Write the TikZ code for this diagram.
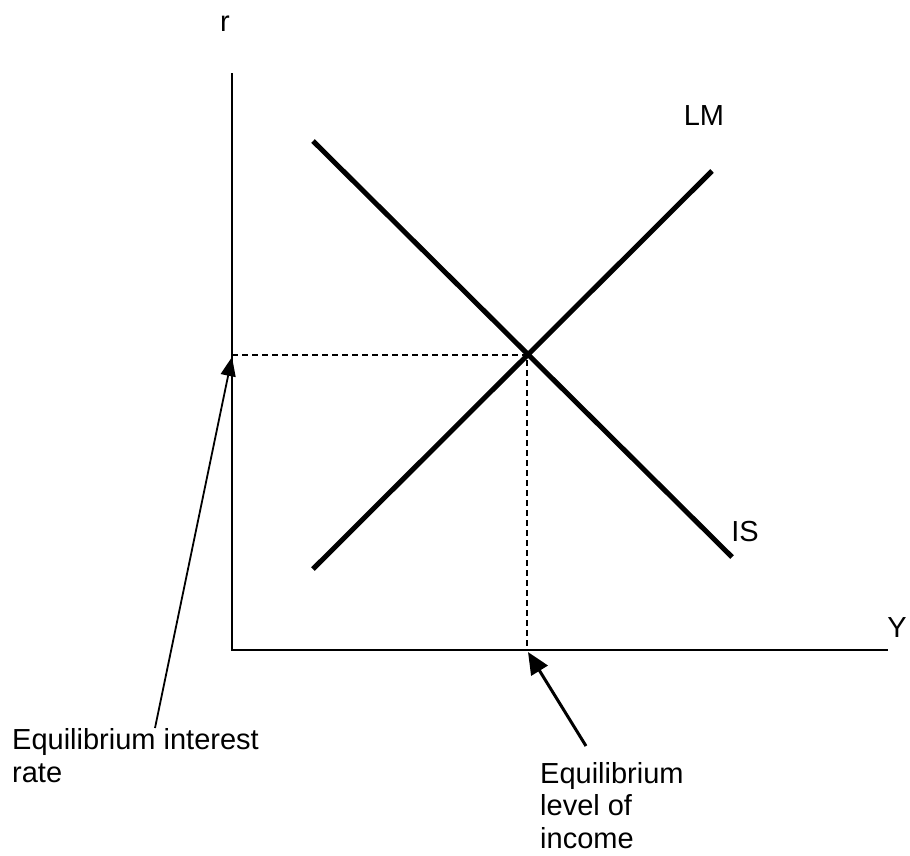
\documentclass[tikz,border=0pt]{standalone}
\usepackage{fontspec}
\setmainfont{Liberation Sans}
\usetikzlibrary{arrows.meta}
\begin{document}
\begin{tikzpicture}[x=1pt,y=-1pt,
  lbl/.style={inner sep=0pt,font=\fontsize{29}{32.5}\selectfont},
  axisline/.style={line width=2pt},
  curve/.style={line width=5pt},
  guide/.style={line width=1.5pt,dash pattern=on 6pt off 4pt},
  pointer/.style={-{Triangle[length=19pt,width=15pt]}}]
\useasboundingbox (0,0) rectangle (910,855);
% axes
\coordinate (O) at (232,650);
\coordinate (ytop) at (232,73);
\coordinate (xend) at (888,650);
\draw[axisline] (ytop) -- (O) -- (xend);
\node[lbl,anchor=base] (r) at (225,31) {r};
\node[lbl,anchor=base] (Y) at (897,637) {Y};
% curves
\coordinate (lm1) at (313,569);
\coordinate (lm2) at (712,171);
\coordinate (is1) at (313,141);
\coordinate (is2) at (732,557);
\draw[curve] (lm1) -- (lm2);
\draw[curve] (is1) -- (is2);
\node[lbl] (LM) at (704,116) {LM};
\node[lbl] (IS) at (745,532) {IS};
% equilibrium
\coordinate (E) at (527,355);
\coordinate (Er) at (232,355);
\coordinate (EY) at (527,650);
\draw[guide] (Er) -- (E) -- (EY);
% labels
\node[lbl,anchor=base west,align=left] (rate) at (12,782) {Equilibrium interest\\rate};
\node[lbl,anchor=base west,align=left] (inc) at (540,848) {Equilibrium\\level of\\income};
\coordinate (t1) at (155,728);
\coordinate (h1) at (232,357);
\coordinate (t2) at (586,746);
\coordinate (h2) at (528,652);
\draw[pointer,line width=1.8pt] (t1) -- (h1);
\draw[pointer,line width=3pt,-{Triangle[length=22pt,width=19pt]}] (t2) -- (h2);
\end{tikzpicture}
\end{document}
